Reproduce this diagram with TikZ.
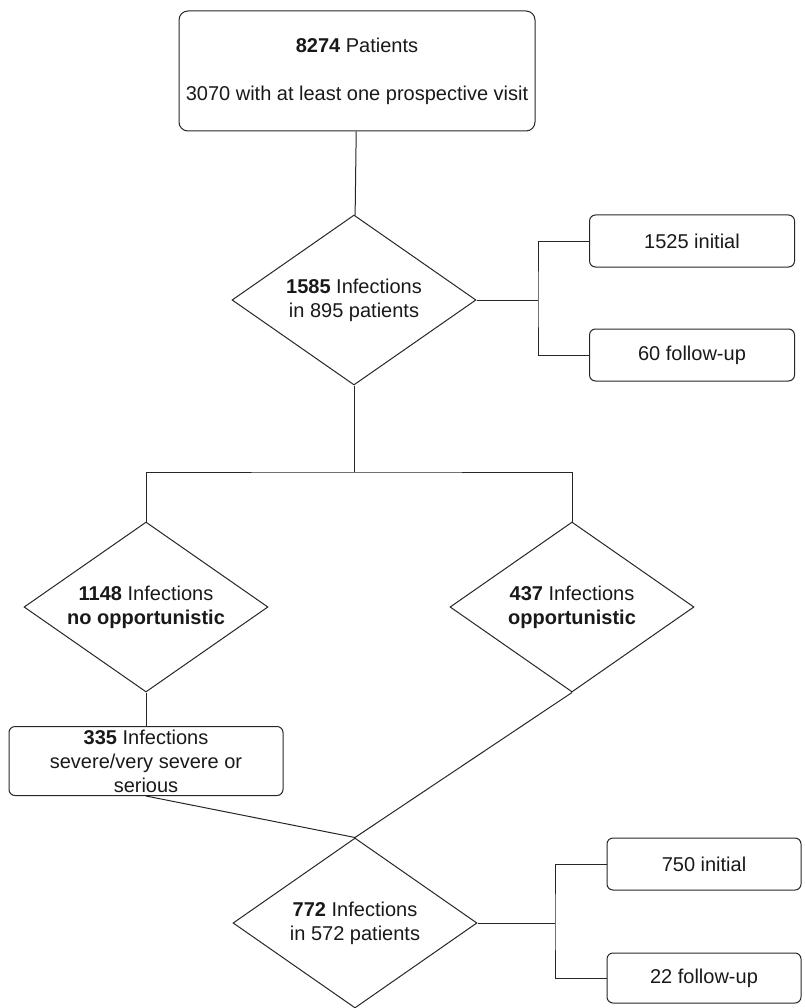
\documentclass[tikz,border=0pt]{standalone}
\usepackage{fontspec}
\setmainfont{Liberation Sans}
\usepackage{tikz}
\usetikzlibrary{positioning,shapes.geometric}

\begin{document}
\begin{tikzpicture}[x=1pt,y=-1pt,
  every node/.style={font=\fontsize{20}{24}\selectfont,align=center,text=black!90},
  card/.style={draw=black!85,rounded corners=6pt,line width=1pt,inner sep=0pt},
  rhomb/.style={draw=black!85,diamond,aspect=1.45,minimum width=244pt,minimum height=170pt,inner sep=0pt,line width=1pt},
  link/.style={draw=black!85,line width=1pt}]
\useasboundingbox (0,0) rectangle (804,1008);
\node (pat) [card,rounded corners=9pt,minimum width=356pt,minimum height=120pt] at (357,71) {\textbf{8274} Patients\\[24pt]3070 with at least one prospective visit};
\node (inf) [rhomb] at (354,300) {\textbf{1585} Infections\\in 895 patients};
\node (ini1) [card,minimum width=205pt,minimum height=52pt] at (692,241) {1525 initial};
\node (fol1) [card,minimum width=205pt,minimum height=52pt,below=61pt of ini1] {60 follow-up};
\node (nopp) [rhomb] at (146,607) {\textbf{1148} Infections\\\textbf{no opportunistic}};
\node (opp) [rhomb] at (572,607) {\textbf{437} Infections\\\textbf{opportunistic}};
\node (sev) [card,minimum width=274pt,minimum height=69pt] at (146,761) {\textbf{335} Infections\\severe/very severe or\\serious};
\node (sel) [rhomb] at (355,923) {\textbf{772} Infections\\in 572 patients};
\node (ini2) [card,minimum width=194pt,minimum height=52pt] at (704,864) {750 initial};
\node (fol2) [card,minimum width=194pt,minimum height=50pt,below=62pt of ini2] {22 follow-up};
\coordinate (j1) at (538,300);
\coordinate (split) at (354,472);
\coordinate (j2) at (555,923);
% connectors
\path[link] (pat) -- (inf);
\path[link] (inf.east) -- (j1);
\path[link] (ini1.west) -| (j1) |- (fol1.west);
\path[link] (inf.south) -- (split);
\path[link] (nopp.north) |- (split) -| (opp.north);
\path[link] (nopp.south) -- (sev.north);
\path[link] (sev.south) -- (sel.north);
\path[link] (opp.south) -- (sel.north);
\path[link] (sel.east) -- (j2);
\path[link] (ini2.west) -| (j2) |- (fol2.west);
\end{tikzpicture}
\end{document}
